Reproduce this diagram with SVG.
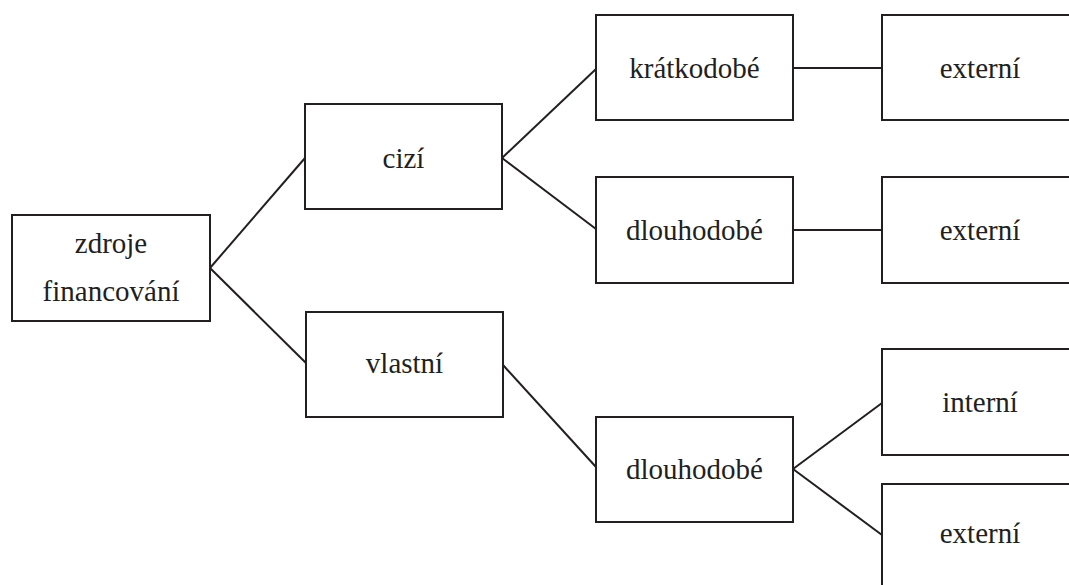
<svg xmlns="http://www.w3.org/2000/svg" width="1069" height="585" viewBox="0 0 1069 585">
<style>
.box{fill:#fff;stroke:#231f20;stroke-width:2}
.lbl{font-size:29px;fill:#231f20;text-anchor:middle}
.con line{stroke:#231f20;stroke-width:2}
</style>
<rect width="1069" height="585" fill="#fff"/>
<g class="con" id="connectors">
<line x1="210" y1="268" x2="305" y2="158"/>
<line x1="210" y1="268" x2="306" y2="363"/>
<line x1="502" y1="158" x2="596" y2="69"/>
<line x1="502" y1="158" x2="596" y2="229"/>
<line x1="793" y1="68" x2="882" y2="68"/>
<line x1="793" y1="230" x2="882" y2="230"/>
<line x1="503" y1="365" x2="596" y2="467"/>
<line x1="793" y1="469" x2="882" y2="403"/>
<line x1="793" y1="469" x2="882" y2="535"/>
</g>
<g font-family="'Liberation Serif', 'DejaVu Serif', serif">
<g id="n-zdroje"><rect class="box" x="12" y="215" width="198" height="106"/><text class="lbl" x="111" y="253">zdroje</text><text class="lbl" x="111" y="301">financování</text></g>
<g id="n-cizi"><rect class="box" x="305" y="104" width="197" height="105"/><text class="lbl" x="403.5" y="168">cizí</text></g>
<g id="n-vlastni"><rect class="box" x="306" y="312" width="197" height="105"/><text class="lbl" x="404.5" y="373">vlastní</text></g>
<g id="n-kratkodobe"><rect class="box" x="596" y="15" width="197" height="105"/><text class="lbl" x="694.5" y="78">krátkodobé</text></g>
<g id="n-dlouhodobe1"><rect class="box" x="596" y="177" width="197" height="106"/><text class="lbl" x="694.5" y="240">dlouhodobé</text></g>
<g id="n-dlouhodobe2"><rect class="box" x="596" y="417" width="197" height="105"/><text class="lbl" x="694.5" y="479">dlouhodobé</text></g>
<g id="n-externi1"><rect class="box" x="882" y="15" width="200" height="105"/><text class="lbl" x="980" y="78">externí</text></g>
<g id="n-externi2"><rect class="box" x="882" y="177" width="200" height="106"/><text class="lbl" x="980" y="240">externí</text></g>
<g id="n-interni"><rect class="box" x="882" y="349" width="200" height="106"/><text class="lbl" x="980" y="412">interní</text></g>
<g id="n-externi3"><rect class="box" x="882" y="484" width="200" height="110"/><text class="lbl" x="980" y="543">externí</text></g>
</g>
</svg>
